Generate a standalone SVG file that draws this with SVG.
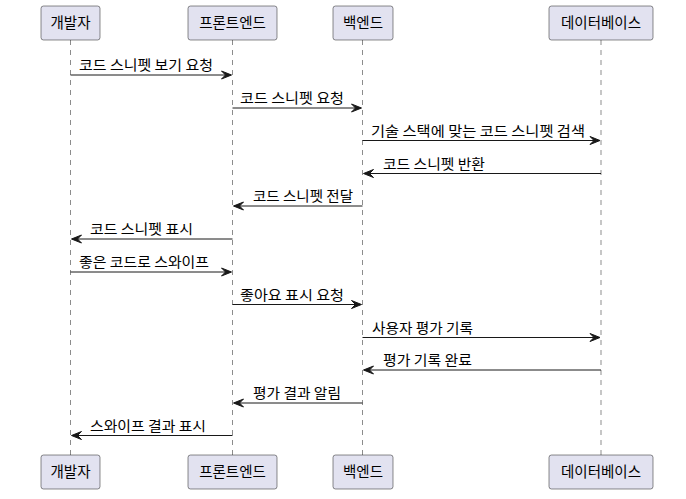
<svg xmlns="http://www.w3.org/2000/svg" width="686" height="499" viewBox="0 0 686 499">
<style>
.box{fill:#E2E2F0;stroke:#181818;stroke-width:0.5}
.life{stroke:#181818;stroke-width:0.5;stroke-dasharray:5,5;fill:none}
.msg{stroke:#181818;stroke-width:1;fill:none}
.head{fill:#181818;stroke:#181818;stroke-width:1}
text{font-family:"Noto Sans CJK KR","Noto Sans",sans-serif;fill:#000}
.pt{font-size:14.5px;text-anchor:middle}
.lb{font-size:13.5px}
</style>
<rect width="686" height="499" fill="#FFFFFF"/>
<g id="lifelines">
<line class="life" x1="70.5" y1="40" x2="70.5" y2="455"/>
<line class="life" x1="232.5" y1="40" x2="232.5" y2="455"/>
<line class="life" x1="362.5" y1="40" x2="362.5" y2="455"/>
<line class="life" x1="601" y1="40" x2="601" y2="455"/>
</g>
<g id="dev">
<rect class="box" x="41" y="6" width="59" height="34" rx="2.5"/>
<text class="pt" x="70.5" y="28">개발자</text>
<rect class="box" x="41" y="455" width="59" height="34" rx="2.5"/>
<text class="pt" x="70.5" y="477">개발자</text>
</g>
<g id="frontend">
<rect class="box" x="188" y="6" width="89" height="34" rx="2.5"/>
<text class="pt" x="232.5" y="28">프론트엔드</text>
<rect class="box" x="188" y="455" width="89" height="34" rx="2.5"/>
<text class="pt" x="232.5" y="477">프론트엔드</text>
</g>
<g id="backend">
<rect class="box" x="333" y="6" width="60" height="34" rx="2.5"/>
<text class="pt" x="363" y="28">백엔드</text>
<rect class="box" x="333" y="455" width="60" height="34" rx="2.5"/>
<text class="pt" x="363" y="477">백엔드</text>
</g>
<g id="database">
<rect class="box" x="549" y="6" width="104" height="34" rx="2.5"/>
<text class="pt" x="601" y="28">데이터베이스</text>
<rect class="box" x="549" y="455" width="104" height="34" rx="2.5"/>
<text class="pt" x="601" y="477">데이터베이스</text>
</g>
<g id="connectors">
<line class="msg" x1="70.5" y1="75" x2="230.5" y2="75"/>
<polygon class="head" points="231.5,75 221.5,71 225.5,75 221.5,79"/>
<text class="lb" x="79" y="70" textLength="134" lengthAdjust="spacingAndGlyphs">코드 스니펫 보기 요청</text>

<line class="msg" x1="232.5" y1="108" x2="360.5" y2="108"/>
<polygon class="head" points="361.5,108 351.5,104 355.5,108 351.5,112"/>
<text class="lb" x="240" y="103" textLength="104" lengthAdjust="spacingAndGlyphs">코드 스니펫 요청</text>

<line class="msg" x1="362.5" y1="140.5" x2="599" y2="140.5"/>
<polygon class="head" points="600,140.5 590,136.5 594,140.5 590,144.5"/>
<text class="lb" x="371" y="135.5" textLength="214" lengthAdjust="spacingAndGlyphs">기술 스택에 맞는 코드 스니펫 검색</text>

<line class="msg" x1="601" y1="173.5" x2="364.5" y2="173.5"/>
<polygon class="head" points="363.5,173.5 373.5,169.5 369.5,173.5 373.5,177.5"/>
<text class="lb" x="383" y="168.5" textLength="102" lengthAdjust="spacingAndGlyphs">코드 스니펫 반환</text>

<line class="msg" x1="362.5" y1="206" x2="234.5" y2="206"/>
<polygon class="head" points="233.5,206 243.5,202 239.5,206 243.5,210"/>
<text class="lb" x="253" y="201" textLength="100" lengthAdjust="spacingAndGlyphs">코드 스니펫 전달</text>

<line class="msg" x1="232.5" y1="239" x2="72.5" y2="239"/>
<polygon class="head" points="71.5,239 81.5,235 77.5,239 81.5,243"/>
<text class="lb" x="90" y="234" textLength="103" lengthAdjust="spacingAndGlyphs">코드 스니펫 표시</text>

<line class="msg" x1="70.5" y1="272" x2="230.5" y2="272"/>
<polygon class="head" points="231.5,272 221.5,268 225.5,272 221.5,276"/>
<text class="lb" x="79" y="267" textLength="130" lengthAdjust="spacingAndGlyphs">좋은 코드로 스와이프</text>

<line class="msg" x1="232.5" y1="304.5" x2="360.5" y2="304.5"/>
<polygon class="head" points="361.5,304.5 351.5,300.5 355.5,304.5 351.5,308.5"/>
<text class="lb" x="240" y="299.5" textLength="104" lengthAdjust="spacingAndGlyphs">좋아요 표시 요청</text>

<line class="msg" x1="362.5" y1="337.5" x2="599" y2="337.5"/>
<polygon class="head" points="600,337.5 590,333.5 594,337.5 590,341.5"/>
<text class="lb" x="372" y="332.5" textLength="101" lengthAdjust="spacingAndGlyphs">사용자 평가 기록</text>

<line class="msg" x1="601" y1="370" x2="364.5" y2="370"/>
<polygon class="head" points="363.5,370 373.5,366 369.5,370 373.5,374"/>
<text class="lb" x="383" y="365" textLength="89" lengthAdjust="spacingAndGlyphs">평가 기록 완료</text>

<line class="msg" x1="362.5" y1="403" x2="234.5" y2="403"/>
<polygon class="head" points="233.5,403 243.5,399 239.5,403 243.5,407"/>
<text class="lb" x="253" y="398" textLength="88" lengthAdjust="spacingAndGlyphs">평가 결과 알림</text>

<line class="msg" x1="232.5" y1="435.5" x2="72.5" y2="435.5"/>
<polygon class="head" points="71.5,435.5 81.5,431.5 77.5,435.5 81.5,439.5"/>
<text class="lb" x="90" y="430.5" textLength="116" lengthAdjust="spacingAndGlyphs">스와이프 결과 표시</text>
</g>
</svg>
